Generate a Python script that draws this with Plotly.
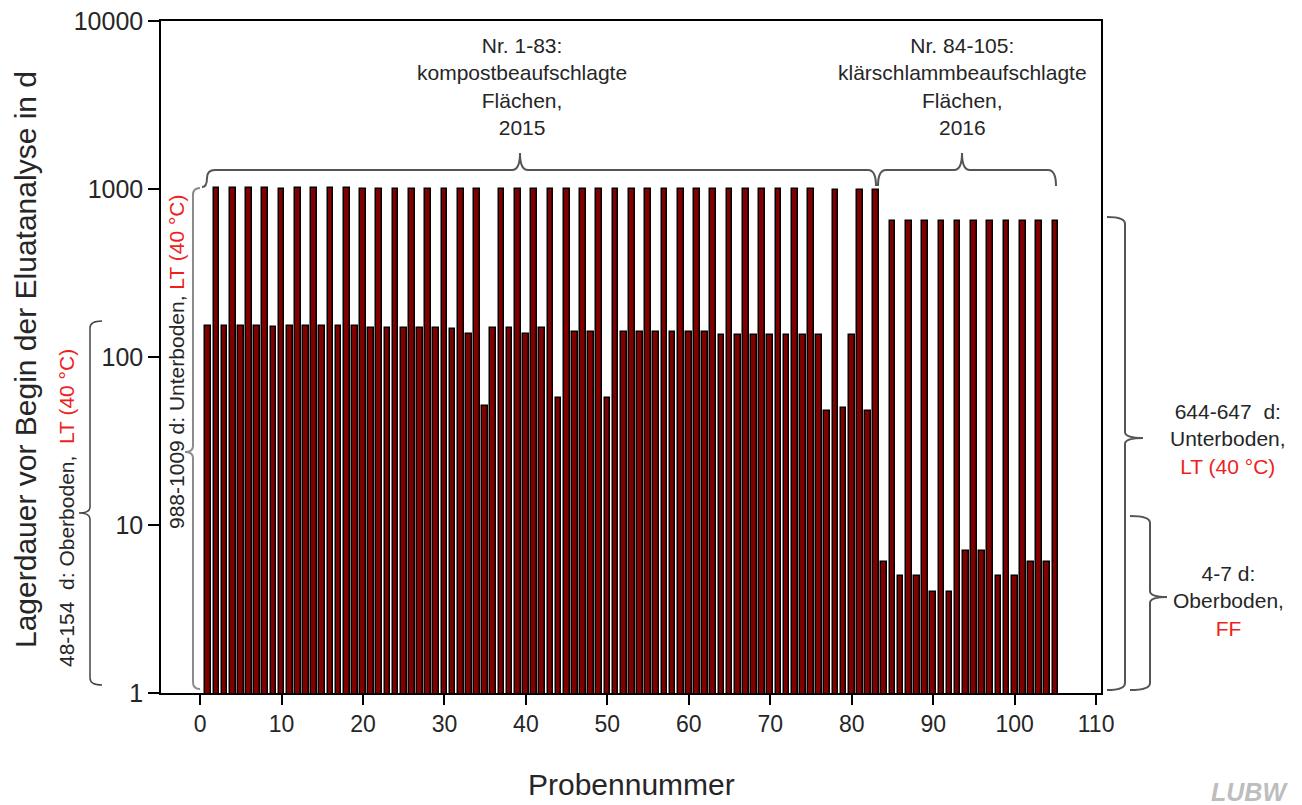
import plotly.graph_objects as go

# Lagerdauer (Tage) je Probe
sample_no = list(range(1, 106))
storage_days = [
    154, 1009, 152, 1009, 154, 1009, 154, 1009, 150, 995,      # 1-10
    154, 1009, 154, 1009, 154, 1009, 154, 1009, 154, 1005,     # 11-20
    149, 995, 149, 995, 148, 995, 148, 995, 148, 995,          # 21-30
    147, 995, 138, 995, 51, 148, 995, 148, 995, 138,           # 31-40
    995, 148, 995, 57, 995, 141, 995, 141, 995, 57,            # 41-50
    995, 141, 995, 141, 995, 141, 995, 141, 995, 141,          # 51-60
    995, 141, 995, 135, 995, 135, 995, 135, 995, 135,          # 61-70
    995, 135, 995, 135, 995, 135, 48, 988, 50, 135,            # 71-80
    988, 48, 988, 6, 647, 5, 645, 5, 645, 4,                   # 81-90
    645, 4, 645, 7, 645, 7, 645, 5, 645, 5,                    # 91-100
    645, 6, 645, 6, 644,                                       # 101-105
]

x_ticks = list(range(0, 111, 10))
y_ticks = [1, 10, 100, 1000, 10000]
y_ticktext = ["1", "10", "100", "1000", "10000"]

FONT = "Liberation Sans, Arial, sans-serif"
TXT = "#262626"
RED = "#f01e1e"

W_PX, H_PX = 1302, 805
L, R, T, B = 161, 1101, 21, 693


def px(x):
    return (x - L) / (R - L)


def py(y):
    return (B - y) / (B - T)


def path(points_cmds):
    out = []
    for cmd, *coords in points_cmds:
        pts = []
        for i in range(0, len(coords), 2):
            pts.append(f"{px(coords[i]):.5f},{py(coords[i + 1]):.5f}")
        out.append(cmd + " " + " ".join(pts))
    return " ".join(out)


fig = go.Figure()
fig.add_trace(go.Bar(
    x=sample_no, y=storage_days, width=0.7,
    marker=dict(color="#800000", line=dict(color="#000000", width=1.5)),
    showlegend=False,
))


def brace_top(x0, x1, xc, yb=186, yh=170, yt=153, col="#555555"):
    p = path([
        ("M", x0 - 5, yb + 1), ("Q", x0, yb + 1, x0, yb - 8), ("Q", x0, yh, x0 + 8, yh),
        ("L", xc - 8, yh), ("Q", xc, yh, xc, yt), ("Q", xc, yh, xc + 8, yh),
        ("L", x1 - 8, yh), ("Q", x1, yh, x1, yb),
    ])
    return dict(type="path", path=p, xref="paper", yref="paper",
                line=dict(color=col, width=2), layer="above")


def brace_vert(x, y0, y1, ym, hook, nub, col, w=2):
    # hook: x of hook ends, nub: x of middle tip
    p = path([
        ("M", hook, y0), ("Q", x, y0, x, y0 + 7), ("L", x, ym - 6),
        ("Q", x, ym, nub, ym), ("Q", x, ym, x, ym + 6),
        ("L", x, y1 - 7), ("Q", x, y1, hook, y1),
    ])
    return dict(type="path", path=p, xref="paper", yref="paper",
                line=dict(color=col, width=w), layer="above")


shapes = [
    brace_top(207, 876, 520),
    dict(type="path", xref="paper", yref="paper", layer="above",
         line=dict(color="#555555", width=2),
         path=path([("M", 878, 186), ("Q", 878, 170, 886, 170), ("L", 954, 170),
                    ("Q", 962, 170, 962, 153), ("Q", 962, 170, 970, 170),
                    ("L", 1048, 170), ("Q", 1056, 170, 1056, 186)])),
    brace_vert(193, 188, 689, 452, 200, 185, "#8c8c8c"),
    brace_vert(90, 321, 685, 513, 102, 79, "#444444", 1.5),
    brace_vert(1125, 217, 690, 438, 1107, 1143, "#555555"),
    brace_vert(1150, 516, 690, 597, 1130, 1167, "#555555"),
]


def ann(text, x, y, size=21, angle=0, color=TXT, **kw):
    return dict(text=text, x=px(x), y=py(y), xref="paper", yref="paper",
                showarrow=False, textangle=angle, xanchor="center", yanchor="middle",
                font=dict(family=FONT, size=size, color=color), **kw)


red = lambda s: f"<span style='color:{RED}'>{s}</span>"

annotations = [
    ann("Nr. 1-83:<br>kompostbeaufschlagte<br>Flächen,<br>2015", 522, 86),
    ann("Nr. 84-105:<br>klärschlammbeaufschlagte<br>Flächen,<br>2016", 962, 86),
    ann("644-647  d:<br>Unterboden,<br>" + red("LT (40 °C)"), 1228, 439),
    ann("4-7 d:<br>Oberboden,<br>" + red("FF"), 1228, 601),
    ann("988-1009 d: Unterboden, " + red("LT (40 °C)"), 176, 362, size=21, angle=-90),
    ann("48-154  d: Oberboden,  " + red("LT (40 °C)"), 66, 508, size=21, angle=-90),
    ann("Lagerdauer vor Begin der Eluatanalyse in d", 25, 360, size=30, angle=-90),
    ann("Probennummer", 631, 784, size=30),
    dict(text="<b><i>LUBW</i></b>", x=px(1249), y=py(792), xref="paper", yref="paper",
         showarrow=False, xanchor="center", yanchor="middle",
         font=dict(family=FONT, size=25, color="#bdbdbd")),
]

fig.update_layout(
    width=W_PX, height=H_PX,
    margin=dict(l=L, r=W_PX - R, t=T, b=H_PX - B, pad=0, autoexpand=False),
    plot_bgcolor="white", paper_bgcolor="white",
    bargap=0, shapes=shapes, annotations=annotations,
    font=dict(family=FONT, color=TXT),
    xaxis=dict(
        range=[-4.8, 110.6], tickvals=x_ticks, ticks="outside", ticklen=10,
        tickwidth=1.5, tickcolor="black", showline=True, mirror=True,
        linecolor="black", linewidth=1.5, showgrid=False, zeroline=False,
        tickfont=dict(size=23, color=TXT), automargin=False,
    ),
    yaxis=dict(
        type="log", range=[0, 4], tickvals=y_ticks, ticktext=y_ticktext,
        ticks="outside", ticklen=11, tickwidth=1.5, tickcolor="black",
        showline=True, mirror=True, linecolor="black", linewidth=1.5,
        showgrid=False, zeroline=False, tickfont=dict(size=25, color=TXT),
        automargin=False,
    ),
)

fig.write_html("out.html")
